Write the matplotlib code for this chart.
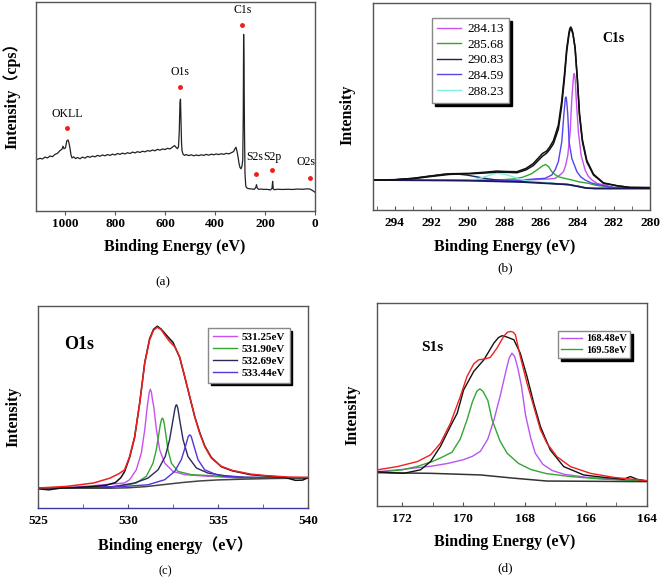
import matplotlib
matplotlib.use("Agg")
import matplotlib.pyplot as plt
from matplotlib.ticker import MultipleLocator

plt.rcParams['font.family'] = ['Liberation Serif', 'Noto Sans CJK SC']

# ---------------- (a) survey spectrum ----------------
survey_e = [1116, 1100, 1090, 1080, 1070, 1060, 1050, 1040, 1030, 1020, 1012, 1008, 1004, 998, 993,
            988, 984, 980, 976, 972, 965, 958, 950, 940, 930, 920, 910, 900, 890, 880, 870, 860,
            850, 840, 830, 820, 810, 800, 790, 780, 770, 760, 750, 740, 730, 720, 710, 700, 690,
            680, 670, 660, 650, 640, 630, 620, 610, 600, 590, 580, 570, 562, 556, 550, 546, 543,
            540, 538, 536, 534, 532, 528, 522, 515, 505, 495, 485, 475, 465, 455, 445, 435, 425,
            415, 405, 395, 385, 375, 365, 355, 345, 335, 326, 320, 316, 312, 308, 304, 300, 296,
            292, 289, 287, 285.5, 284, 282, 280, 277, 274, 270, 260, 250, 242, 237, 234, 231, 226,
            215, 205, 195, 185, 178, 172, 169.5, 167, 163, 150, 130, 110, 90, 70, 50, 30, 20, 10, 0]
survey_i = [24.5, 25.2, 24.9, 25.8, 25.4, 26.3, 26.0, 27.1, 27.6, 28.9, 29.6, 31.0, 29.8, 30.2, 33.5,
            34.0, 32.5, 30.0, 26.8, 25.4, 25.9, 25.1, 25.6, 25.0, 25.8, 25.3, 26.1, 25.7, 26.3, 25.9,
            26.6, 26.2, 26.8, 26.4, 27.0, 26.6, 27.2, 26.8, 27.5, 27.1, 27.7, 27.3, 27.9, 27.5, 28.2,
            27.8, 28.4, 28.0, 28.6, 28.3, 28.9, 28.6, 29.2, 28.8, 29.5, 29.1, 29.7, 29.4, 30.0, 29.7,
            30.6, 31.3, 30.5, 29.8, 30.8, 38.0, 52.0, 53.5, 44.0, 33.0, 29.0, 27.2, 26.6, 27.0, 26.5,
            26.9, 26.4, 26.8, 26.5, 26.9, 26.6, 27.1, 26.7, 27.2, 26.9, 27.3, 27.0, 27.4, 27.1, 27.6,
            27.3, 27.9, 28.4, 29.8, 30.5, 28.6, 26.0, 22.8, 20.8, 20.2, 21.5, 24.5, 45.0, 84.5, 70.0,
            38.0, 18.0, 12.0, 11.2, 10.8, 10.6, 10.5, 10.4, 11.3, 12.6, 11.0, 10.4, 10.5, 10.3, 10.4,
            10.2, 10.1, 10.8, 14.2, 10.6, 10.2, 10.4, 10.3, 10.4, 10.3, 10.5, 10.4, 10.6, 10.5, 9.8, 9.0]
peak_names = ['OKLL', 'O1s', 'C1s', 'S2s', 'S2p', 'O2s']
peak_dot_e = [993, 540, 291, 235, 171, 21]
peak_dot_i = [39.9, 59.2, 89.2, 17.7, 19.5, 15.8]
peak_lab_e = [989, 540, 289, 243, 171, 36]
peak_lab_i = [46.6, 66.5, 96.0, 26.0, 26.0, 23.4]

# ---------------- (b) C1s ----------------
c1s_raw_e = [295.2, 294, 293, 292.1, 291, 289.9, 289, 288.4, 287.9, 287.3, 286.8, 286.4, 285.9,
             285.67, 285.5, 285.3, 285.03, 284.85, 284.7, 284.57, 284.45, 284.4, 284.35, 284.3,
             284.23, 284.11, 283.98, 283.87, 283.71, 283.47, 283.1, 282.55, 281.8, 281.1, 280]
c1s_raw_i = [14.5, 14.6, 15.3, 16.4, 17.5, 17.7, 18.3, 18.8, 18.6, 18.5, 20.1, 22.5, 27.3, 28.5,
             30.5, 33.5, 41.0, 52.3, 65.1, 78.0, 85.5, 87.7, 88.4, 87.7, 85.5, 78.0, 61.9, 45.8,
             33.0, 23.3, 16.9, 12.9, 11.7, 10.9, 10.8]
c1s_fit_i = [14.5, 14.6, 15.1, 16.1, 17.2, 17.5, 17.9, 18.3, 18.2, 18.0, 19.4, 21.5, 26.0, 27.5,
             29.3, 32.0, 39.0, 50.0, 63.0, 76.5, 84.5, 86.8, 87.5, 86.8, 85.0, 78.5, 62.8, 46.8,
             34.0, 24.0, 17.3, 13.1, 11.7, 10.9, 10.8]
c1s_bg_e = [295.2, 290, 287, 285.5, 284.5, 284, 283.5, 283, 280]
c1s_bg_i = [14.5, 14.2, 13.5, 12.8, 12.3, 11.5, 10.6, 10.4, 10.4]
c1s_labels = ['284.13', '285.68', '290.83', '284.59', '288.23']
c1s_e = [
    [295.2, 290, 288, 287, 286, 285.5, 285.2, 284.9, 284.75, 284.63, 284.51, 284.38, 284.29, 284.22,
     284.19, 284.16, 284.13, 284.1, 284.05, 283.93, 283.78, 283.56, 283.38, 283.19, 282.9, 282.55,
     282, 280],
    [295.2, 290, 288.5, 287.5, 287, 286.5, 286.1, 285.9, 285.73, 285.55, 285.39, 285.2, 285.03,
     284.7, 284.29, 283.9, 283.38, 283, 282.5, 282, 280],
    [295.2, 294, 293, 292, 291.4, 291, 290.5, 290, 289.5, 289, 288.5, 288, 287, 286, 285, 284.5,
     284, 283.5, 283, 280],
    [295.2, 290, 288, 287, 286.3, 285.76, 285.39, 285.2, 285.03, 284.84, 284.73, 284.67, 284.65,
     284.62, 284.59, 284.56, 284.51, 284.44, 284.29, 284.01, 283.8, 283.56, 283.2, 282.83, 282, 280],
    [295.2, 291, 290, 289.5, 289, 288.6, 288.35, 288, 287.6, 287.2, 286.8, 286, 285, 284, 283.5,
     283, 280],
]
c1s_i = [
    [14.5, 14.3, 14.2, 14.4, 14.8, 15.0, 15.3, 17.2, 18.5, 21.5, 26.5, 37.8, 53.9, 62.0, 64.8, 65.9,
     64.8, 62.5, 53.9, 37.8, 26.5, 19.3, 16.2, 14.5, 12.8, 12.2, 10.9, 10.6],
    [14.5, 14.3, 14.4, 15.0, 15.8, 17.5, 20.0, 21.3, 22.0, 20.8, 18.5, 17.0, 16.1, 15.3, 14.5, 13.6,
     12.9, 12.0, 11.4, 10.9, 10.5],
    [14.5, 14.7, 15.3, 16.4, 17.2, 17.5, 17.3, 16.8, 16.0, 15.2, 14.6, 14.2, 13.8, 13.2, 12.6, 12.3,
     11.5, 10.6, 10.4, 10.4],
    [14.5, 14.3, 14.2, 14.5, 15.0, 15.3, 16.9, 19.5, 23.3, 33.0, 45.8, 51.5, 53.8, 54.6, 53.8, 51.5,
     45.8, 33.0, 24.9, 18.5, 16.0, 14.5, 13.0, 12.2, 10.8, 10.5],
    [14.5, 14.3, 14.4, 15.0, 16.2, 17.4, 17.7, 17.3, 16.3, 15.0, 14.2, 13.5, 12.7, 11.5, 10.6, 10.4,
     10.4],
]
c1s_colors = ['#c850f0', '#33a532', '#202060', '#5544ee', '#80f0e0']

# ---------------- (c) O1s ----------------
o1s_fit_e = [525, 526.6, 528.1, 529, 529.5, 529.81, 530.09, 530.37, 530.65, 530.93, 531.2, 531.42,
             531.63, 531.85, 532.04, 532.31, 532.59, 532.87, 533.15, 533.43, 533.7, 533.98, 534.26,
             534.63, 535.19, 535.8, 536.8, 537.7, 539, 540]
o1s_fit_i = [9.9, 10.7, 12.4, 14.8, 17.0, 18.9, 25.5, 35.4, 51.9, 71.7, 83.2, 88.0, 89.5, 88.2, 85.7,
             82.4, 79.9, 74.9, 65.1, 55.2, 45.3, 37.1, 30.5, 24.7, 20.6, 18.6, 16.8, 16.0, 15.3, 15.2]
o1s_raw_e = [525, 525.6, 526.3, 527, 528, 528.8, 529.3, 529.6, 529.81, 530.09, 530.37, 530.65,
             530.93, 531.2, 531.42, 531.63, 531.85, 532.04, 532.31, 532.5, 532.59, 532.87, 533.15,
             533.43, 533.7, 533.98, 534.26, 534.63, 535.19, 535.8, 536.8, 537.7, 538.7, 539.3,
             539.7, 540]
o1s_raw_i = [9.5, 9.0, 9.9, 10.1, 10.6, 11.3, 12.6, 15.0, 18.0, 25.0, 35.0, 52.0, 72.0, 83.8, 88.5,
             90.0, 88.5, 86.5, 83.8, 82.0, 80.2, 74.5, 65.0, 55.0, 45.5, 37.5, 30.8, 25.0, 20.4,
             18.4, 16.5, 15.8, 15.2, 13.7, 13.8, 15.0]
o1s_bg_e = [525, 529, 530, 531, 532, 533, 534, 535, 536.5, 538, 540]
o1s_bg_i = [9.8, 9.8, 10.0, 10.6, 11.6, 12.6, 13.4, 13.9, 14.3, 14.6, 14.8]
o1s_labels = ['531.25eV', '531.90eV', '532.69eV', '533.44eV']
o1s_e = [
    [525, 527, 528, 529, 529.81, 530.09, 530.46, 530.74, 530.93, 531.07, 531.12, 531.18, 531.24,
     531.30, 531.36, 531.43, 531.58, 531.76, 532.04, 532.5, 533.15, 534.44, 536, 540],
    [525, 528, 529, 530, 530.46, 531.02, 531.39, 531.57, 531.72, 531.8, 531.86, 531.91, 531.96,
     532.02, 532.09, 532.22, 532.41, 532.78, 533.52, 534.63, 536, 540],
    [525, 529, 530.37, 531.11, 531.67, 532.07, 532.31, 532.5, 532.6, 532.65, 532.69, 532.73, 532.78,
     532.87, 533.06, 533.33, 533.8, 534.44, 535.37, 536.5, 540],
    [525, 529.81, 531.11, 532.04, 532.59, 532.96, 533.19, 533.35, 533.43, 533.51, 533.67, 533.89,
     534.26, 534.91, 535.37, 536.5, 540],
]
o1s_i = [
    [9.9, 10.3, 11.0, 11.8, 12.4, 14.0, 18.9, 27.2, 38.7, 50.2, 53.5, 57.3, 58.8, 57.3, 53.5, 50.2,
     38.7, 28.8, 22.2, 18.1, 16.5, 15.7, 15.0, 14.8],
    [9.8, 10.0, 10.5, 11.5, 12.4, 15.7, 22.2, 28.8, 37.1, 41.5, 43.8, 44.5, 43.8, 41.5, 37.1, 28.8,
     22.2, 18.1, 16.5, 16.0, 15.0, 14.7],
    [9.8, 10.2, 12.4, 14.8, 18.9, 25.5, 33.8, 43.6, 48.8, 50.6, 51.1, 50.6, 48.8, 43.6, 33.8, 25.5,
     19.8, 17.3, 16.0, 15.2, 14.8],
    [9.7, 10.7, 11.5, 14.0, 18.1, 23.9, 30.5, 35.5, 36.2, 35.5, 30.5, 23.9, 18.9, 16.5, 15.7, 15.2,
     14.8],
]
o1s_colors = ['#c850f0', '#33a532', '#2a2a5a', '#5533dd']

# ---------------- (d) S1s ----------------
s1s_fit_e = [172.82, 172.16, 171.5, 171.07, 170.75, 170.42, 170.1, 169.88, 169.66, 169.5, 169.28,
             169.12, 168.9, 168.68, 168.56, 168.46, 168.37, 168.3, 168.14, 167.92, 167.7, 167.48,
             167.27, 166.94, 166.5, 165.85, 165.09, 164]
s1s_fit_i = [17.8, 19.4, 21.9, 25.2, 30.9, 40.8, 53.9, 63.8, 70.0, 72.0, 72.5, 73.2, 77.8, 83.6, 85.6,
             86.0, 85.6, 84.4, 73.7, 60.5, 49.0, 37.5, 30.9, 24.3, 19.4, 16.1, 14.1, 12.5]
s1s_raw_e = [172.82, 172.38, 171.95, 171.4, 171.07, 170.75, 170.37, 170.2, 169.99, 169.66, 169.33,
             169.0, 168.85, 168.73, 168.57, 168.35, 168.14, 167.92, 167.7, 167.48, 167.16, 166.72,
             166.07, 165.41, 164.76, 164.54, 164.33, 164]
s1s_raw_i = [16.9, 16.4, 16.1, 17.8, 21.9, 29.3, 40.8, 45.7, 57.2, 66.3, 72.0, 80.3, 83.0, 83.9, 83.2,
             81.9, 75.3, 63.8, 50.7, 39.1, 27.6, 19.4, 15.3, 14.1, 13.2, 14.5, 13.2, 12.3]
s1s_bg_e = [172.82, 171.07, 169.44, 168.35, 167.27, 164]
s1s_bg_i = [16.4, 16.1, 15.3, 13.7, 12.3, 12.0]
s1s_labels = ['168.48eV', '169.58eV']
s1s_e = [
    [172.82, 172, 171, 170.5, 170, 169.7, 169.44, 169.2, 169.0, 168.8, 168.6, 168.5, 168.41, 168.32,
     168.22, 168.1, 167.97, 167.8, 167.65, 167.4, 167.1, 166.7, 166, 165, 164],
    [172.82, 172, 171.5, 171, 170.7, 170.37, 170.1, 169.88, 169.7, 169.56, 169.46, 169.36, 169.2,
     169.06, 168.8, 168.57, 168.2, 167.8, 167.3, 166.5, 165.5, 164],
]
s1s_i = [
    [16.9, 18.0, 19.7, 21.0, 22.8, 24.5, 27.0, 33.0, 42.4, 54.0, 67.0, 73.0, 75.3, 73.5, 68.0, 59.0,
     45.0, 33.5, 26.0, 20.5, 17.5, 15.6, 14.2, 13.1, 12.3],
    [16.6, 17.8, 19.5, 22.0, 24.0, 26.5, 33.0, 42.4, 51.5, 56.5, 57.7, 56.5, 52.0, 42.4, 32.0, 26.0,
     21.0, 18.0, 16.0, 14.5, 13.3, 12.3],
]
s1s_colors = ['#b855f0', '#33a532']

W, H = 661, 579
fig = plt.figure(figsize=(W / 100, H / 100), dpi=100)


def add_ax(l, t, r, b):
    return fig.add_axes([l / W, 1 - b / H, (r - l) / W, (b - t) / H])


def ftext(x, y, s, **kw):
    fig.text(x / W, 1 - y / H, s, ha='center', va='center', **kw)


def style(ax):
    for sp in ax.spines.values():
        sp.set_color('#555555')
        sp.set_linewidth(1.0)
    ax.set_yticks([])
    ax.set_ylim(0, 100)
    for lab in ax.get_xticklabels():
        lab.set_fontweight('bold')
        lab.set_fontsize(9.5)


shadow = {'color': 'black', 'alpha': 1}

axa = add_ax(36, 2, 315, 211)
axb = add_ax(373, 3, 650, 210)
axc = add_ax(38, 306, 308, 508)
axd = add_ax(377, 303, 647, 506)

# (a)
axa.plot(survey_e, survey_i, color='#222222', lw=0.9)
axa.plot(peak_dot_e, peak_dot_i, 'o', color='#ee1c1c', ms=3.5, mec='none')
for n, x, y in zip(peak_names, peak_lab_e, peak_lab_i):
    axa.text(x, y, n, ha='center', va='center', fontsize=8.5)
axa.set_xlim(1116, 0)
axa.set_xticks([1000, 800, 600, 400, 200, 0])
axa.tick_params(axis='x', direction='out', length=3, pad=2, color='#555555')
style(axa)

# (b)
for e, i, c, lab in zip(c1s_e, c1s_i, c1s_colors, c1s_labels):
    axb.plot(e, i, color=c, lw=1.0, label=lab)
axb.plot(c1s_bg_e, c1s_bg_i, color='#1a1a5a', lw=1.3)
axb.plot(c1s_raw_e, c1s_raw_i, color='#111111', lw=1.1)
axb.plot(c1s_raw_e, c1s_fit_i, color='#111111', lw=1.1)
axb.text(282.0, 82.8, 'C1s', ha='center', va='center', fontsize=10, fontweight='bold')
axb.set_xlim(295.2, 280)
axb.xaxis.set_major_locator(MultipleLocator(2))
axb.xaxis.set_minor_locator(MultipleLocator(1))
axb.tick_params(axis='x', which='both', direction='in', length=3, pad=5, color='#555555')
style(axb)
axb.legend(loc='upper left', bbox_to_anchor=(0.213, 0.928), borderaxespad=0, fontsize=9.5,
           handlelength=1.8, handletextpad=0.5, labelspacing=0.25, fancybox=False,
           edgecolor='#888888', framealpha=1, shadow=shadow)

# (c)
for e, i, c, lab in zip(o1s_e, o1s_i, o1s_colors, o1s_labels):
    axc.plot(e, i, color=c, lw=1.0, label=lab)
axc.plot(o1s_bg_e, o1s_bg_i, color='#444444', lw=1.1)
axc.plot(o1s_raw_e, o1s_raw_i, color='#111111', lw=1.1)
axc.plot(o1s_fit_e, o1s_fit_i, color='#ee2020', lw=1.1)
axc.text(527.3, 80.7, 'O1s', ha='center', va='center', fontsize=13, fontweight='bold')
axc.set_xlim(525, 540)
axc.xaxis.set_major_locator(MultipleLocator(5))
axc.xaxis.set_minor_locator(MultipleLocator(2.5))
axc.tick_params(axis='x', which='both', direction='in', length=3, pad=5, color='#555555')
style(axc)
axc.spines['bottom'].set_color('#3a3aa0')
axc.legend(loc='upper left', bbox_to_anchor=(0.63, 0.891), borderaxespad=0,
           prop={'size': 8, 'weight': 'bold'},
           handlelength=2.2, handletextpad=0.4, labelspacing=0.2, fancybox=False,
           edgecolor='#888888', framealpha=1, shadow=shadow)

# (d)
for e, i, c, lab in zip(s1s_e, s1s_i, s1s_colors, s1s_labels):
    axd.plot(e, i, color=c, lw=1.0, label=lab)
axd.plot(s1s_bg_e, s1s_bg_i, color='#333333', lw=1.1)
axd.plot(s1s_raw_e, s1s_raw_i, color='#111111', lw=1.0)
axd.plot(s1s_fit_e, s1s_fit_i, color='#ee2020', lw=1.0)
axd.text(171.02, 78.3, 'S1s', ha='center', va='center', fontsize=11, fontweight='bold')
axd.set_xlim(172.82, 164)
axd.xaxis.set_major_locator(MultipleLocator(2))
axd.xaxis.set_minor_locator(MultipleLocator(1))
axd.tick_params(axis='x', which='both', direction='in', length=3, pad=5, color='#555555')
style(axd)
axd.legend(loc='upper left', bbox_to_anchor=(0.67, 0.862), borderaxespad=0,
           prop={'size': 7.5, 'weight': 'bold'},
           handlelength=2.0, handletextpad=0.4, labelspacing=0.2, borderpad=0.3, fancybox=False,
           edgecolor='#888888', framealpha=1, shadow=shadow)

# axis titles and panel letters
bold = dict(fontsize=11.5, fontweight='bold')
ftext(175, 247, 'Binding Energy (eV)', **bold)
ftext(12, 92, 'Intensity（cps）', rotation=90, **bold)
ftext(163, 282, '(a)', fontsize=9.5)
ftext(505, 247, 'Binding Energy (eV)', **bold)
ftext(347, 115, 'Intensity', rotation=90, **bold)
ftext(505, 268, '(b)', fontsize=9.5)
ftext(175, 545, 'Binding energy（eV）', **bold)
ftext(13, 417, 'Intensity', rotation=90, **bold)
ftext(165, 571, '(c)', fontsize=9)
ftext(505, 542, 'Binding Energy (eV)', **bold)
ftext(352, 415, 'Intensity', rotation=90, **bold)
ftext(505, 568, '(d)', fontsize=9.5)

fig.savefig('out.png', dpi=100)
